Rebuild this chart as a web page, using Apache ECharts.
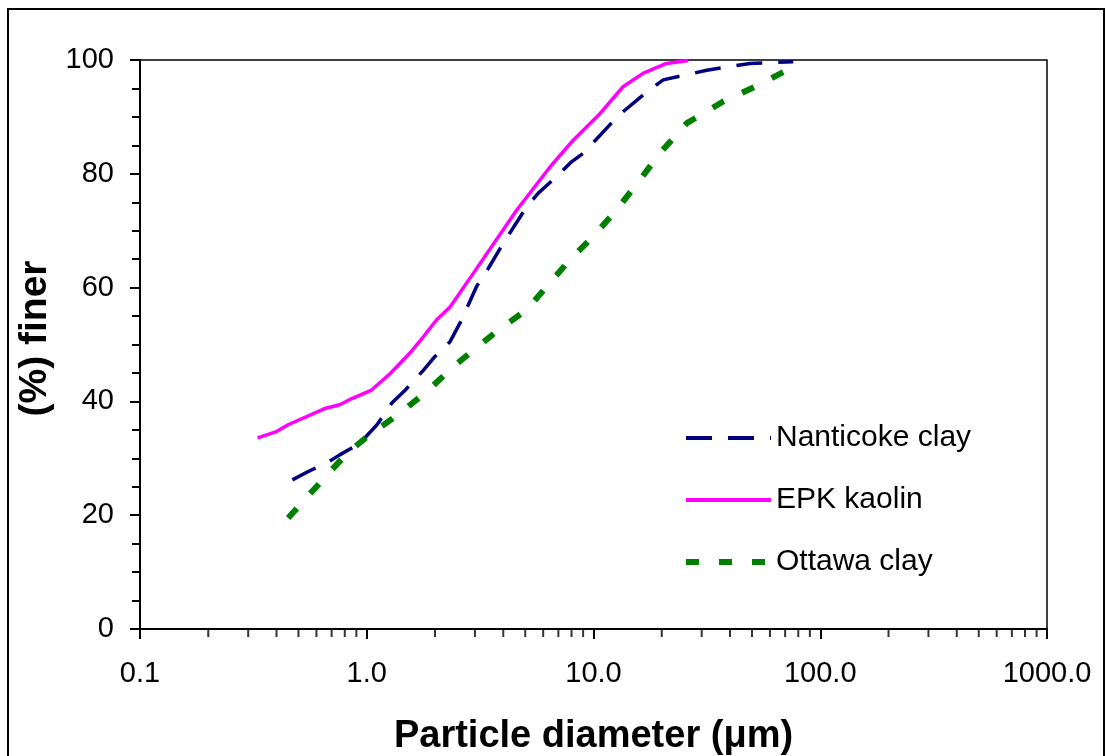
<!DOCTYPE html>
<html>
<head>
<meta charset="utf-8">
<script src="https://cdn.jsdelivr.net/npm/echarts@6/dist/echarts.min.js"></script>
<style>
  html, body { margin: 0; padding: 0; background: #fff; }
  #chart { width: 1107px; height: 756px; }
</style>
</head>
<body>
<div id="chart"></div>
<script>
// particle size distributions, diameter in micrometres, % finer
var nanticokeD = [0.47, 0.56, 0.68, 0.76, 0.93, 1.11, 1.29, 1.48, 1.78, 2.0, 2.33, 2.62, 3.05, 3.44, 4.0, 5.07, 5.71, 7.0, 8.0, 9.0, 11.8, 13.5, 17.2, 20.3, 31.6, 49, 76];
var nanticokeP = [26.2, 27.8, 29.4, 30.6, 32.6, 35.9, 39.7, 42.0, 45.5, 47.9, 50.5, 54.3, 60.2, 63.4, 67.8, 74.2, 76.6, 79.8, 82.1, 83.6, 88.6, 90.9, 94.4, 96.5, 98.2, 99.4, 99.7];

var epkD = [0.33, 0.40, 0.45, 0.66, 0.76, 0.86, 1.05, 1.27, 1.55, 1.78, 2.03, 2.33, 2.95, 4.58, 6.43, 8.14, 10.7, 13.5, 16.6, 21.0, 26.2];
var epkP = [33.6, 34.7, 35.9, 38.8, 39.4, 40.5, 42.0, 44.9, 48.5, 51.4, 54.3, 56.6, 62.5, 73.6, 81.2, 85.9, 90.6, 95.3, 97.7, 99.4, 99.9];

var ottawaD = [0.45, 0.54, 0.68, 0.82, 1.07, 1.22, 1.43, 1.87, 2.41, 2.85, 3.74, 5.07, 7.87, 9.98, 12.6, 16.0, 19.6, 25.8, 37.3, 51.5, 76];
var ottawaP = [19.5, 23.0, 27.4, 30.9, 34.7, 36.2, 38.2, 42.0, 46.1, 48.5, 52.3, 56.1, 64.9, 69.0, 73.6, 78.9, 83.6, 88.9, 92.7, 95.3, 98.8];

var xMinorTicks = [0.2, 0.3, 0.4, 0.5, 0.6, 0.7, 0.8, 0.9, 2, 3, 4, 5, 6, 7, 8, 9,
  20, 30, 40, 50, 60, 70, 80, 90, 200, 300, 400, 500, 600, 700, 800, 900];

function pairs(xs, ys) {
  return xs.map(function (x, i) { return [x, ys[i]]; });
}

var chart = echarts.init(document.getElementById('chart'));
var font = 'Liberation Sans, Arial, sans-serif';

var option = {
  backgroundColor: '#fff',
  animation: false,
  textStyle: { fontFamily: font, color: '#000' },
  graphic: [{
    type: 'rect',
    shape: { x: 8, y: 9, width: 1096, height: 770 },
    style: { fill: 'none', stroke: '#000', lineWidth: 2 },
    silent: true
  }],
  grid: {
    left: 140, right: 60, top: 60, bottom: 127,
    containLabel: false, outerBoundsMode: 'none',
    show: true, borderColor: '#000', borderWidth: 1.5
  },
  legend: {
    orient: 'vertical',
    left: 678, top: 418,
    itemWidth: 85, itemHeight: 14, itemGap: 32,
    itemStyle: { opacity: 0 },
    textStyle: { fontFamily: font, fontSize: 30, color: '#000' },
    data: [
      { name: 'Nanticoke clay', lineStyle: { width: 4 } },
      { name: 'EPK kaolin', lineStyle: { width: 4 } },
      { name: 'Ottawa clay', lineStyle: { width: 6 } }
    ]
  },
  xAxis: {
    type: 'log', logBase: 10, min: 0.1, max: 1000,
    name: 'Particle diameter (\u03bcm)',
    nameLocation: 'middle', nameGap: 89,
    nameTextStyle: { fontFamily: font, fontSize: 38, fontWeight: 'bold', color: '#000' },
    axisLine: { lineStyle: { color: '#000', width: 2 } },
    axisTick: { inside: false, length: 10, lineStyle: { color: '#000', width: 2 } },
    axisLabel: {
      margin: 30, fontSize: 29, color: '#000', fontFamily: font,
      formatter: function (v) { return v < 1 ? String(v) : v.toFixed(1); }
    },
    splitLine: { show: false }
  },
  yAxis: {
    type: 'value', min: 0, max: 100, interval: 20,
    name: '(%) finer',
    nameLocation: 'middle', nameGap: 84,
    nameTextStyle: {
      fontFamily: font, fontSize: 39, fontWeight: 'bold', color: '#000',
      padding: [0, 0, 0, 12]
    },
    axisLine: { show: true, lineStyle: { color: '#000', width: 2 } },
    axisTick: { show: true, length: 10, lineStyle: { color: '#000', width: 2 } },
    minorTick: { show: true, splitNumber: 4, length: 8, lineStyle: { color: '#000', width: 2 } },
    axisLabel: { margin: 26, fontSize: 29, color: '#000', fontFamily: font },
    splitLine: { show: false }
  },
  series: [
    {
      name: 'Nanticoke clay', type: 'line', showSymbol: false, symbol: 'none',
      data: pairs(nanticokeD, nanticokeP),
      lineStyle: { color: '#000080', width: 3.5, type: [26, 16] },
      itemStyle: { color: '#000080' }
    },
    {
      name: 'EPK kaolin', type: 'line', showSymbol: false, symbol: 'none',
      data: pairs(epkD, epkP),
      lineStyle: { color: '#ff00ff', width: 3.5 },
      itemStyle: { color: '#ff00ff' }
    },
    {
      name: 'Ottawa clay', type: 'line', showSymbol: false, symbol: 'none',
      data: pairs(ottawaD, ottawaP),
      lineStyle: { color: '#008000', width: 6, type: [13, 20] },
      itemStyle: { color: '#008000' }
    },
    {
      // minor log ticks on the x axis
      name: 'minor', type: 'scatter', silent: true, clip: false,
      symbol: 'rect', symbolSize: [2, 8], symbolOffset: [0, 4],
      itemStyle: { color: '#000' },
      data: xMinorTicks.map(function (v) { return [v, 0]; }),
      z: 5
    }
  ]
};

chart.setOption(option);
</script>
</body>
</html>
